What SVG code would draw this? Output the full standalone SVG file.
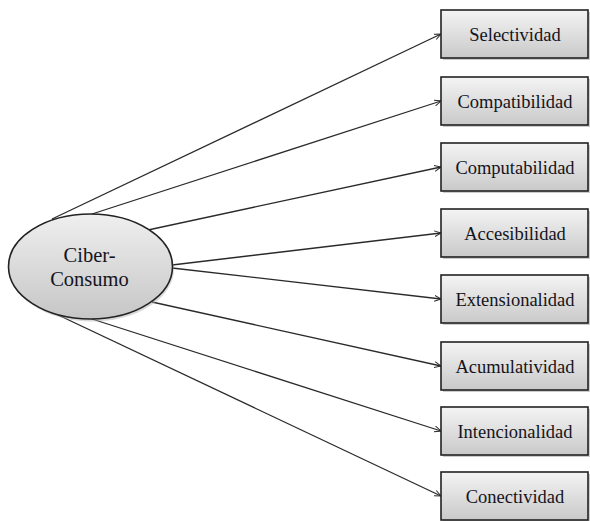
<svg xmlns="http://www.w3.org/2000/svg" width="590" height="521" viewBox="0 0 590 521">
<style>
  .box { fill: url(#boxGrad); stroke: #222; stroke-width: 1.6; }
  .shadow { fill: #999; opacity: 0.5; }
  text { font-family: 'Liberation Serif', 'Times New Roman', serif; font-size: 18.5px; fill: #141420; text-anchor: middle; }
  .big { font-size: 20.5px; }
  .conn { stroke: #2a2a2a; stroke-width: 1.3; fill: none; marker-end: url(#arr); }
</style>
<defs>
  <linearGradient id="boxGrad" x1="0" y1="0" x2="0" y2="1">
    <stop offset="0" stop-color="#f4f4f4"/>
    <stop offset="1" stop-color="#c9c9c9"/>
  </linearGradient>
  <linearGradient id="ellGrad" x1="0" y1="0" x2="0" y2="1">
    <stop offset="0" stop-color="#efefef"/>
    <stop offset="1" stop-color="#c6c6c6"/>
  </linearGradient>
  <marker id="arr" viewBox="0 0 10 10" refX="9.5" refY="5" markerWidth="7" markerHeight="7" orient="auto" markerUnits="userSpaceOnUse">
    <path d="M0,0.8 L9.5,5 L0,9.2" fill="none" stroke="#2a2a2a" stroke-width="1.4"/>
  </marker>
</defs>
<g id="connectors">
  <line class="conn" x1="52" y1="219" x2="441" y2="34"/>
  <line class="conn" x1="92" y1="214" x2="441" y2="101"/>
  <line class="conn" x1="148" y1="230" x2="441" y2="167"/>
  <line class="conn" x1="172" y1="265" x2="441" y2="233"/>
  <line class="conn" x1="172" y1="268" x2="441" y2="299"/>
  <line class="conn" x1="152" y1="302" x2="441" y2="366"/>
  <line class="conn" x1="92" y1="319" x2="441" y2="431"/>
  <line class="conn" x1="56" y1="314" x2="441" y2="496"/>
</g>
<g id="ciberconsumo">
  <ellipse cx="92" cy="269" rx="82" ry="52.5" fill="#aaa" opacity="0.45"/>
  <ellipse cx="90.5" cy="266.5" rx="82" ry="52.5" fill="url(#ellGrad)" stroke="#222" stroke-width="1.6"/>
  <text class="big" x="89.5" y="262">Ciber-</text>
  <text class="big" x="89.5" y="286">Consumo</text>
</g>
<g id="selectividad">
  <rect class="shadow" x="443" y="12" width="147" height="48"/>
  <rect class="box" x="441" y="10" width="147" height="48"/>
  <text x="515" y="41">Selectividad</text>
</g>
<g id="compatibilidad">
  <rect class="shadow" x="443" y="79" width="147" height="48"/>
  <rect class="box" x="441" y="77" width="147" height="48"/>
  <text x="515" y="108">Compatibilidad</text>
</g>
<g id="computabilidad">
  <rect class="shadow" x="443" y="145" width="147" height="48"/>
  <rect class="box" x="441" y="143" width="147" height="48"/>
  <text x="515" y="174">Computabilidad</text>
</g>
<g id="accesibilidad">
  <rect class="shadow" x="443" y="211" width="147" height="48"/>
  <rect class="box" x="441" y="209" width="147" height="48"/>
  <text x="515" y="240">Accesibilidad</text>
</g>
<g id="extensionalidad">
  <rect class="shadow" x="443" y="277" width="147" height="48"/>
  <rect class="box" x="441" y="275" width="147" height="48"/>
  <text x="515" y="306">Extensionalidad</text>
</g>
<g id="acumulatividad">
  <rect class="shadow" x="443" y="344" width="147" height="48"/>
  <rect class="box" x="441" y="342" width="147" height="48"/>
  <text x="515" y="373">Acumulatividad</text>
</g>
<g id="intencionalidad">
  <rect class="shadow" x="443" y="409" width="147" height="48"/>
  <rect class="box" x="441" y="407" width="147" height="48"/>
  <text x="515" y="438">Intencionalidad</text>
</g>
<g id="conectividad">
  <rect class="shadow" x="443" y="474" width="147" height="48"/>
  <rect class="box" x="441" y="472" width="147" height="48"/>
  <text x="515" y="503">Conectividad</text>
</g>
</svg>
